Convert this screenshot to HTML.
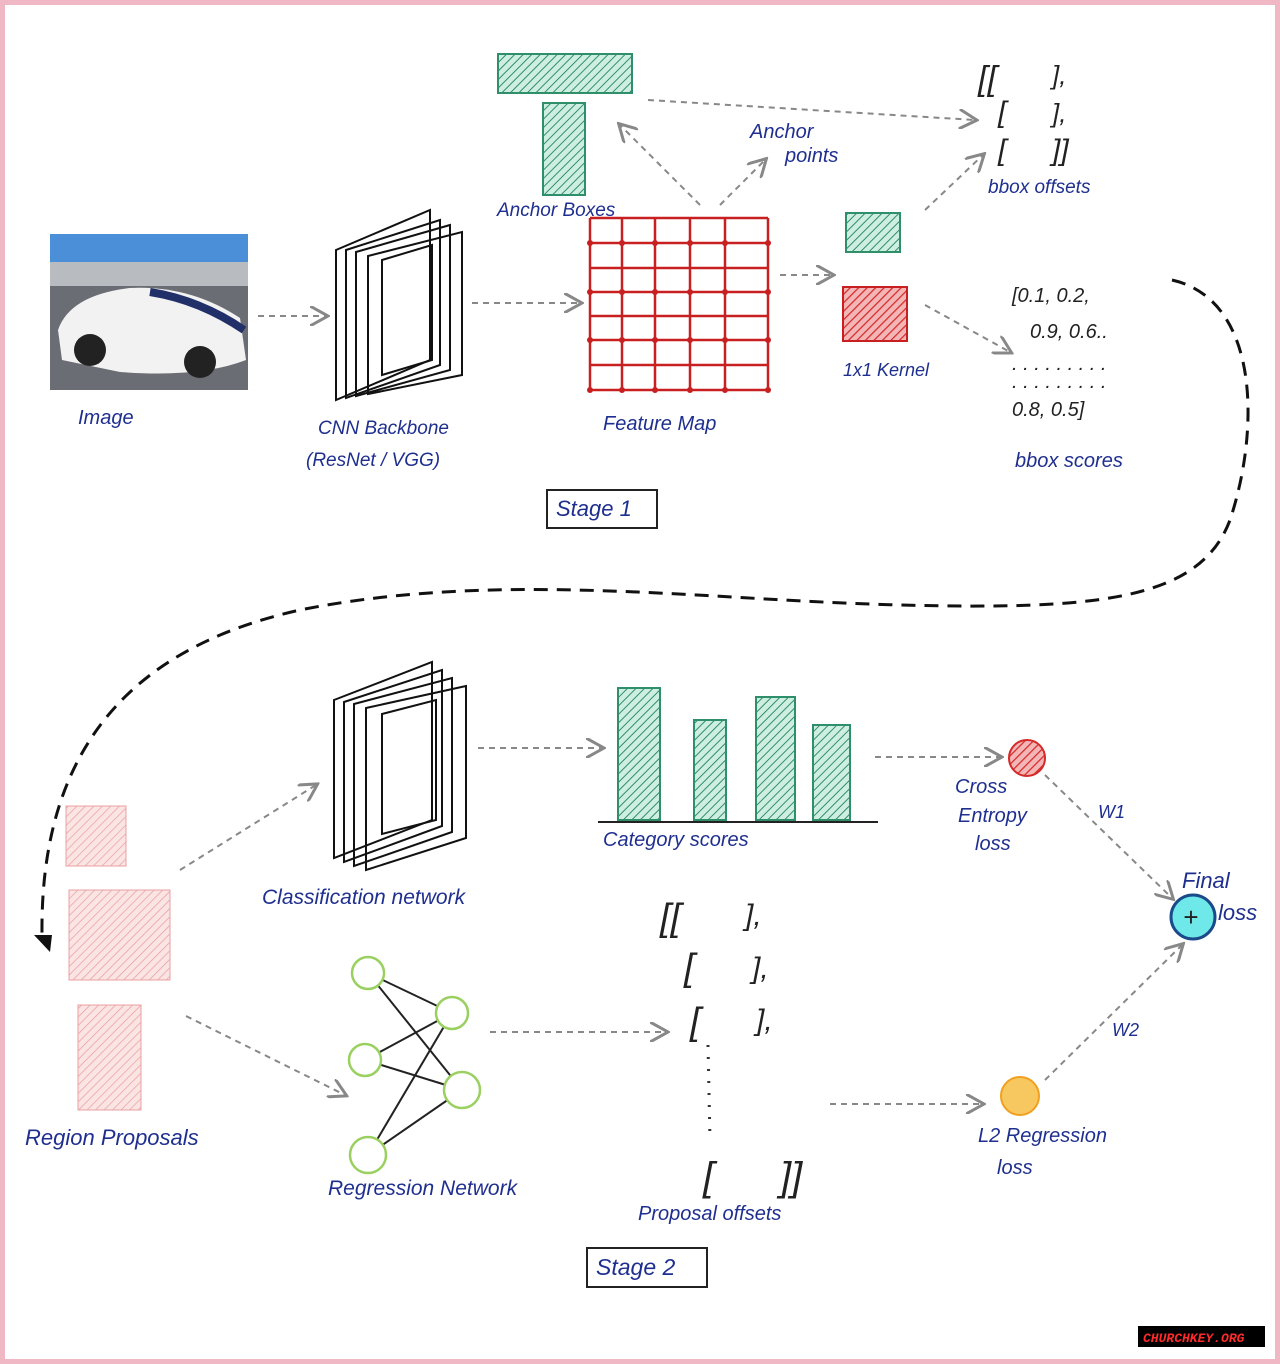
<!DOCTYPE html>
<html><head><meta charset="utf-8"><style>
body{margin:0;background:#fff}
svg{display:block}
text{font-family:"Liberation Sans",sans-serif;font-style:italic;fill:#1f2f8f}
text.k{fill:#222}
</style></head><body>
<svg width="1280" height="1364" viewBox="0 0 1280 1364" xmlns="http://www.w3.org/2000/svg">
<defs>
<pattern id="hg" width="6" height="6" patternUnits="userSpaceOnUse" patternTransform="rotate(45)"><rect width="6" height="6" fill="#cfeee2"/><line x1="0" y1="0" x2="0" y2="6" stroke="#2f8f6a" stroke-width="2"/></pattern>
<pattern id="hr" width="6" height="6" patternUnits="userSpaceOnUse" patternTransform="rotate(45)"><rect width="6" height="6" fill="#f3b5b5"/><line x1="0" y1="0" x2="0" y2="6" stroke="#d42a2a" stroke-width="2.5"/></pattern>
<pattern id="hp" width="6" height="6" patternUnits="userSpaceOnUse" patternTransform="rotate(45)"><rect width="6" height="6" fill="#fbe4e4"/><line x1="0" y1="0" x2="0" y2="6" stroke="#eaa0a0" stroke-width="1.5"/></pattern>
<marker id="a" markerWidth="10" markerHeight="10" refX="8" refY="5" orient="auto"><path d="M0,0 L9,5 L0,10" fill="none" stroke="#888" stroke-width="1.5"/></marker>
</defs>
<rect x="2.5" y="2.5" width="1275" height="1359" fill="#fff" stroke="#f0b8c4" stroke-width="5"/>
<!-- car image -->
<rect x="50" y="234" width="198" height="156" fill="#6a6e74"/>
<rect x="50" y="234" width="198" height="40" fill="#4a8fd8"/>
<rect x="50" y="262" width="198" height="24" fill="#b8bcc0"/>
<path d="M58,330 Q70,295 130,288 Q190,285 240,318 L246,360 Q200,378 120,372 L62,360 Z" fill="#f2f2f2"/>
<path d="M150,292 Q200,300 244,330" stroke="#22306a" stroke-width="8" fill="none"/>
<circle cx="90" cy="350" r="16" fill="#222"/><circle cx="200" cy="362" r="16" fill="#222"/>
<text x="78" y="424" font-size="20">Image</text>
<g stroke="#888" stroke-width="2" stroke-dasharray="6,5" fill="none" marker-end="url(#a)">
<line x1="258" y1="316" x2="326" y2="316"/>
<line x1="472" y1="303" x2="580" y2="303"/>
<line x1="700" y1="205" x2="620" y2="125"/>
<line x1="720" y1="205" x2="765" y2="160"/>
<line x1="648" y1="100" x2="975" y2="120"/>
<line x1="780" y1="275" x2="832" y2="275"/>
<line x1="925" y1="210" x2="983" y2="155"/>
<line x1="925" y1="305" x2="1010" y2="352"/>
<line x1="180" y1="870" x2="316" y2="785"/>
<line x1="186" y1="1016" x2="345" y2="1095"/>
<line x1="478" y1="748" x2="602" y2="748"/>
<line x1="875" y1="757" x2="1000" y2="757"/>
<line x1="490" y1="1032" x2="666" y2="1032"/>
<line x1="830" y1="1104" x2="982" y2="1104"/>
<line x1="1045" y1="775" x2="1172" y2="898"/>
<line x1="1045" y1="1080" x2="1182" y2="945"/>
</g>
<!-- CNN backbone -->
<g fill="none" stroke="#111" stroke-width="2">
<path d="M336,250 L430,210 L430,360 L336,400 Z"/>
<path d="M346,250 L440,220 L440,365 L346,398 Z"/>
<path d="M356,252 L450,225 L450,370 L356,396 Z"/>
<path d="M368,256 L462,232 L462,375 L368,394 Z"/>
<path d="M382,260 L432,245 L432,360 L382,375 Z"/>
</g>
<text x="318" y="434" font-size="19">CNN Backbone</text>
<text x="306" y="466" font-size="19">(ResNet / VGG)</text>
<!-- anchor boxes -->
<rect x="498" y="54" width="134" height="39" fill="url(#hg)" stroke="#2f8f6a" stroke-width="2"/>
<rect x="543" y="103" width="42" height="92" fill="url(#hg)" stroke="#2f8f6a" stroke-width="2"/>
<text x="497" y="216" font-size="19">Anchor Boxes</text>
<text x="750" y="138" font-size="20">Anchor</text>
<text x="785" y="162" font-size="20">points</text>
<!-- feature map -->
<g stroke="#c82020" stroke-width="2.5">
<line x1="590" y1="218" x2="590" y2="390"/><line x1="622" y1="218" x2="622" y2="390"/><line x1="655" y1="218" x2="655" y2="390"/><line x1="690" y1="218" x2="690" y2="390"/><line x1="725" y1="218" x2="725" y2="390"/><line x1="768" y1="218" x2="768" y2="390"/>
<line x1="590" y1="218" x2="768" y2="218"/><line x1="590" y1="243" x2="768" y2="243"/><line x1="590" y1="268" x2="768" y2="268"/><line x1="590" y1="292" x2="768" y2="292"/><line x1="590" y1="316" x2="768" y2="316"/><line x1="590" y1="340" x2="768" y2="340"/><line x1="590" y1="365" x2="768" y2="365"/><line x1="590" y1="390" x2="768" y2="390"/>
</g>
<g fill="#c82020">
<circle cx="590" cy="243" r="3"/><circle cx="622" cy="243" r="3"/><circle cx="655" cy="243" r="3"/><circle cx="690" cy="243" r="3"/><circle cx="725" cy="243" r="3"/><circle cx="768" cy="243" r="3"/>
<circle cx="590" cy="292" r="3"/><circle cx="622" cy="292" r="3"/><circle cx="655" cy="292" r="3"/><circle cx="690" cy="292" r="3"/><circle cx="725" cy="292" r="3"/><circle cx="768" cy="292" r="3"/>
<circle cx="590" cy="340" r="3"/><circle cx="622" cy="340" r="3"/><circle cx="655" cy="340" r="3"/><circle cx="690" cy="340" r="3"/><circle cx="725" cy="340" r="3"/><circle cx="768" cy="340" r="3"/>
<circle cx="590" cy="390" r="3"/><circle cx="622" cy="390" r="3"/><circle cx="655" cy="390" r="3"/><circle cx="690" cy="390" r="3"/><circle cx="725" cy="390" r="3"/><circle cx="768" cy="390" r="3"/>
</g>
<text x="603" y="430" font-size="20">Feature Map</text>
<rect x="846" y="213" width="54" height="39" fill="url(#hg)" stroke="#2f8f6a" stroke-width="2"/>
<rect x="843" y="287" width="64" height="54" fill="url(#hr)" stroke="#c82020" stroke-width="2"/>
<text x="843" y="376" font-size="18">1x1 Kernel</text>
<text class="k" x="978" y="90" font-size="34">[[</text>
<text class="k" x="1052" y="84" font-size="26">],</text>
<text class="k" x="998" y="122" font-size="30">[</text><text class="k" x="1052" y="122" font-size="26">],</text>
<text class="k" x="998" y="160" font-size="30">[</text><text class="k" x="1052" y="160" font-size="30">]]</text>
<text x="988" y="193" font-size="19">bbox offsets</text>
<text class="k" x="1012" y="302" font-size="20">[0.1, 0.2,</text>
<text class="k" x="1030" y="338" font-size="20">0.9, 0.6..</text>
<text class="k" x="1012" y="370" font-size="20">. . . . . . . . .</text>
<text class="k" x="1012" y="388" font-size="20">. . . . . . . . .</text>
<text class="k" x="1012" y="416" font-size="20">0.8, 0.5]</text>
<text x="1015" y="467" font-size="20">bbox scores</text>
<rect x="547" y="490" width="110" height="38" fill="none" stroke="#222" stroke-width="2"/>
<text x="556" y="516" font-size="22">Stage 1</text>
<!-- big dashed curve -->
<path d="M1172,280 C1260,300 1260,430 1230,520 C1200,600 1100,610 900,605 C700,600 500,570 300,610 C120,650 40,760 42,935" fill="none" stroke="#111" stroke-width="3" stroke-dasharray="14,9"/>
<path d="M34,935 L52,935 L50,952 Z" fill="#111"/>
<!-- region proposals -->
<rect x="66" y="806" width="60" height="60" fill="url(#hp)" stroke="#eaa0a0"/>
<rect x="69" y="890" width="101" height="90" fill="url(#hp)" stroke="#eaa0a0"/>
<rect x="78" y="1005" width="63" height="105" fill="url(#hp)" stroke="#eaa0a0"/>
<text x="25" y="1145" font-size="22">Region Proposals</text>
<!-- classification net -->
<g fill="none" stroke="#111" stroke-width="2">
<path d="M334,700 L432,662 L432,820 L334,858 Z"/>
<path d="M344,702 L442,670 L442,826 L344,862 Z"/>
<path d="M354,704 L452,678 L452,832 L354,866 Z"/>
<path d="M366,708 L466,686 L466,838 L366,870 Z"/>
<path d="M382,714 L436,700 L436,820 L382,834 Z"/>
</g>
<text x="262" y="904" font-size="21">Classification network</text>
<!-- bars -->
<rect x="618" y="688" width="42" height="132" fill="url(#hg)" stroke="#2f8f6a" stroke-width="2"/>
<rect x="694" y="720" width="32" height="100" fill="url(#hg)" stroke="#2f8f6a" stroke-width="2"/>
<rect x="756" y="697" width="39" height="123" fill="url(#hg)" stroke="#2f8f6a" stroke-width="2"/>
<rect x="813" y="725" width="37" height="95" fill="url(#hg)" stroke="#2f8f6a" stroke-width="2"/>
<line x1="598" y1="822" x2="878" y2="822" stroke="#222" stroke-width="2"/>
<text x="603" y="846" font-size="20">Category scores</text>
<circle cx="1027" cy="758" r="18" fill="url(#hr)" stroke="#d42a2a" stroke-width="2"/>
<text x="955" y="793" font-size="20">Cross</text>
<text x="958" y="822" font-size="20">Entropy</text>
<text x="975" y="850" font-size="20">loss</text>
<text x="1098" y="818" font-size="18">W1</text>
<text x="1112" y="1036" font-size="18">W2</text>
<circle cx="1193" cy="917" r="22" fill="#6ee8e8" stroke="#1a4a8a" stroke-width="3"/>
<text class="k" x="1183" y="926" font-size="26" font-style="normal">+</text>
<text x="1182" y="888" font-size="22">Final</text>
<text x="1218" y="920" font-size="22">loss</text>
<circle cx="1020" cy="1096" r="19" fill="#f8c860" stroke="#f0a020" stroke-width="2"/>
<text x="978" y="1142" font-size="20">L2 Regression</text>
<text x="997" y="1174" font-size="20">loss</text>
<!-- NN -->
<g stroke="#222" stroke-width="2">
<line x1="368" y1="973" x2="452" y2="1013"/><line x1="368" y1="973" x2="462" y2="1090"/>
<line x1="365" y1="1060" x2="452" y2="1013"/><line x1="365" y1="1060" x2="462" y2="1090"/>
<line x1="368" y1="1155" x2="452" y2="1013"/><line x1="368" y1="1155" x2="462" y2="1090"/>
</g>
<g fill="#fff" stroke="#9ad060" stroke-width="2.5">
<circle cx="368" cy="973" r="16"/><circle cx="365" cy="1060" r="16"/><circle cx="368" cy="1155" r="18"/><circle cx="452" cy="1013" r="16"/><circle cx="462" cy="1090" r="18"/>
</g>
<text x="328" y="1195" font-size="21">Regression Network</text>
<!-- proposal offsets -->
<text class="k" x="660" y="930" font-size="38">[[</text><text class="k" x="745" y="925" font-size="30">],</text>
<text class="k" x="684" y="980" font-size="38">[</text><text class="k" x="752" y="978" font-size="30">],</text>
<text class="k" x="690" y="1034" font-size="38">[</text><text class="k" x="756" y="1030" font-size="30">],</text>
<text class="k" x="703" y="1190" font-size="40">[</text><text class="k" x="780" y="1190" font-size="40">]]</text>
<line x1="708" y1="1045" x2="710" y2="1140" stroke="#333" stroke-width="3" stroke-dasharray="2,10"/>
<text x="638" y="1220" font-size="20">Proposal offsets</text>
<rect x="587" y="1248" width="120" height="39" fill="none" stroke="#222" stroke-width="2"/>
<text x="596" y="1275" font-size="23">Stage 2</text>
<rect x="1138" y="1326" width="127" height="21" fill="#000"/>
<text x="1143" y="1342" font-size="13" font-style="normal" style="fill:#ff2a2a;font-family:'Liberation Mono',monospace;font-weight:bold">CHURCHKEY.ORG</text>
</svg>
</body></html>
